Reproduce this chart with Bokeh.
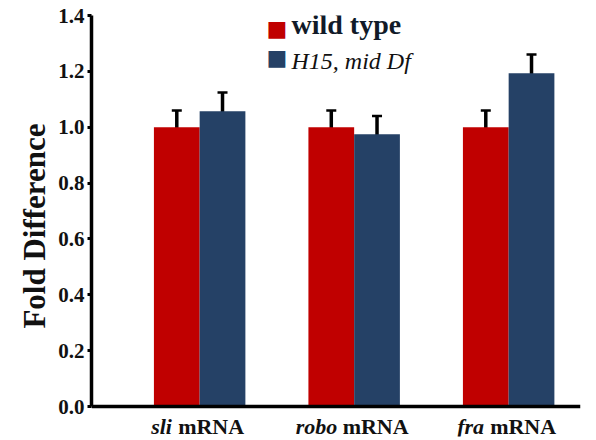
from bokeh.plotting import figure
from bokeh.models import (Range1d, Whisker, TeeHead, ColumnDataSource, Label, FixedTicker,
                          PrintfTickFormatter)
from bokeh.embed import file_html
from bokeh.resources import INLINE

categories = ["sli", "robo", "fra"]
wild_type = [1.0, 1.0, 1.0]
wild_err = [0.06, 0.06, 0.06]
h15 = [1.057, 0.975, 1.193]
h15_err = [0.067, 0.065, 0.067]
yticks = [0.0, 0.2, 0.4, 0.6, 0.8, 1.0, 1.2, 1.4]

RED = "#C00000"
BLUE = "#254166"
FONT = "Liberation Serif"

p = figure(width=588, height=438, output_backend="svg", toolbar_location=None,
           x_range=Range1d(0, 3.165), y_range=Range1d(-0.1074, 1.4),
           min_border_left=91, min_border_right=8, min_border_top=15, min_border_bottom=2)
p.outline_line_color = None
p.grid.visible = False

centers = [0.7 + i for i in range(len(categories))]
bw = 0.296
xr = [c - bw / 2 for c in centers]
xb = [c + bw / 2 for c in centers]

src_r = ColumnDataSource(dict(x=xr, top=wild_type, lo=[v - e for v, e in zip(wild_type, wild_err)],
                              hi=[v + e for v, e in zip(wild_type, wild_err)]))
src_b = ColumnDataSource(dict(x=xb, top=h15, lo=[v - e for v, e in zip(h15, h15_err)],
                              hi=[v + e for v, e in zip(h15, h15_err)]))

p.vbar(x="x", top="top", width=bw, bottom=0, source=src_r, fill_color=RED, line_color=None)
p.vbar(x="x", top="top", width=bw, bottom=0, source=src_b, fill_color=BLUE, line_color=None)

for src in (src_r, src_b):
    w = Whisker(base="x", lower="lo", upper="hi", source=src, line_color="black", line_width=3.5,
                upper_head=TeeHead(size=10, line_color="black", line_width=2.5),
                lower_head=TeeHead(size=10, line_color="black", line_width=2.5))
    p.add_layout(w)

# x axis sits at y = 0 inside the frame
p.xaxis.fixed_location = 0
p.xaxis.ticker = FixedTicker(ticks=[])
p.xaxis.major_label_text_font_size = "0px"
p.xaxis.axis_line_width = 3.5
p.xaxis.axis_line_color = "black"
p.xaxis.major_tick_line_color = None
p.xaxis.minor_tick_line_color = None

p.yaxis.bounds = (0, 1.4)
p.yaxis.ticker = FixedTicker(ticks=yticks)
p.yaxis.formatter = PrintfTickFormatter(format="%.1f")
p.yaxis.axis_line_width = 3.5
p.yaxis.axis_line_color = "black"
p.yaxis.major_tick_line_width = 3
p.yaxis.major_tick_in = 0
p.yaxis.major_tick_out = 4
p.yaxis.minor_tick_line_color = None
p.yaxis.major_label_text_font = FONT
p.yaxis.major_label_text_font_style = "bold"
p.yaxis.major_label_text_font_size = "21px"
p.yaxis.major_label_text_color = "#111111"
p.yaxis.major_label_standoff = 3
p.yaxis.axis_label = "Fold Difference"
p.yaxis.axis_label_text_font = FONT
p.yaxis.axis_label_text_font_style = "bold"
p.yaxis.axis_label_text_font_size = "31px"
p.yaxis.axis_label_text_color = "#111111"
p.yaxis.axis_label_standoff = 3

# category labels with mixed styles (text glyphs below the x axis)
name_w = {"sli": 22, "robo": 42, "fra": 28}
mrna_w = 66
gap = 5
totals = [name_w[n] + gap + mrna_w for n in categories]
lab_src = ColumnDataSource(dict(
    x=centers, name=categories, mrna=["mRNA"] * len(categories),
    off_name=[-t / 2 - 2 for t in totals],
    off_mrna=[-t / 2 - 2 + name_w[n] + gap for t, n in zip(totals, categories)],
    y=[-0.071] * len(categories)))
p.text(x="x", y="y", text="name", x_offset="off_name", source=lab_src,
       text_font=FONT, text_font_style="bold italic", text_font_size="22px",
       text_color="#111111", text_baseline="middle", text_align="left")
p.text(x="x", y="y", text="mrna", x_offset="off_mrna", source=lab_src,
       text_font=FONT, text_font_style="bold", text_font_size="22px",
       text_color="#111111", text_baseline="middle", text_align="left")

# legend
p.add_layout(Label(x=175, y=396, x_units="screen", y_units="screen", text="\u25A0",
                   text_font="DejaVu Sans", text_font_size="22px", text_color=RED,
                   text_baseline="bottom"))
p.add_layout(Label(x=200, y=397, x_units="screen", y_units="screen", text="wild type",
                   text_font=FONT, text_font_style="bold", text_font_size="28px",
                   text_color="#111a28", text_baseline="bottom"))
p.add_layout(Label(x=175, y=367, x_units="screen", y_units="screen", text="\u25A0",
                   text_font="DejaVu Sans", text_font_size="22px", text_color=BLUE,
                   text_baseline="bottom"))
p.add_layout(Label(x=200, y=363, x_units="screen", y_units="screen", text="H15, mid Df",
                   text_font=FONT, text_font_style="italic", text_font_size="24px",
                   text_color="#111111", text_baseline="bottom"))

open("out.html", "w").write(file_html(p, INLINE))
